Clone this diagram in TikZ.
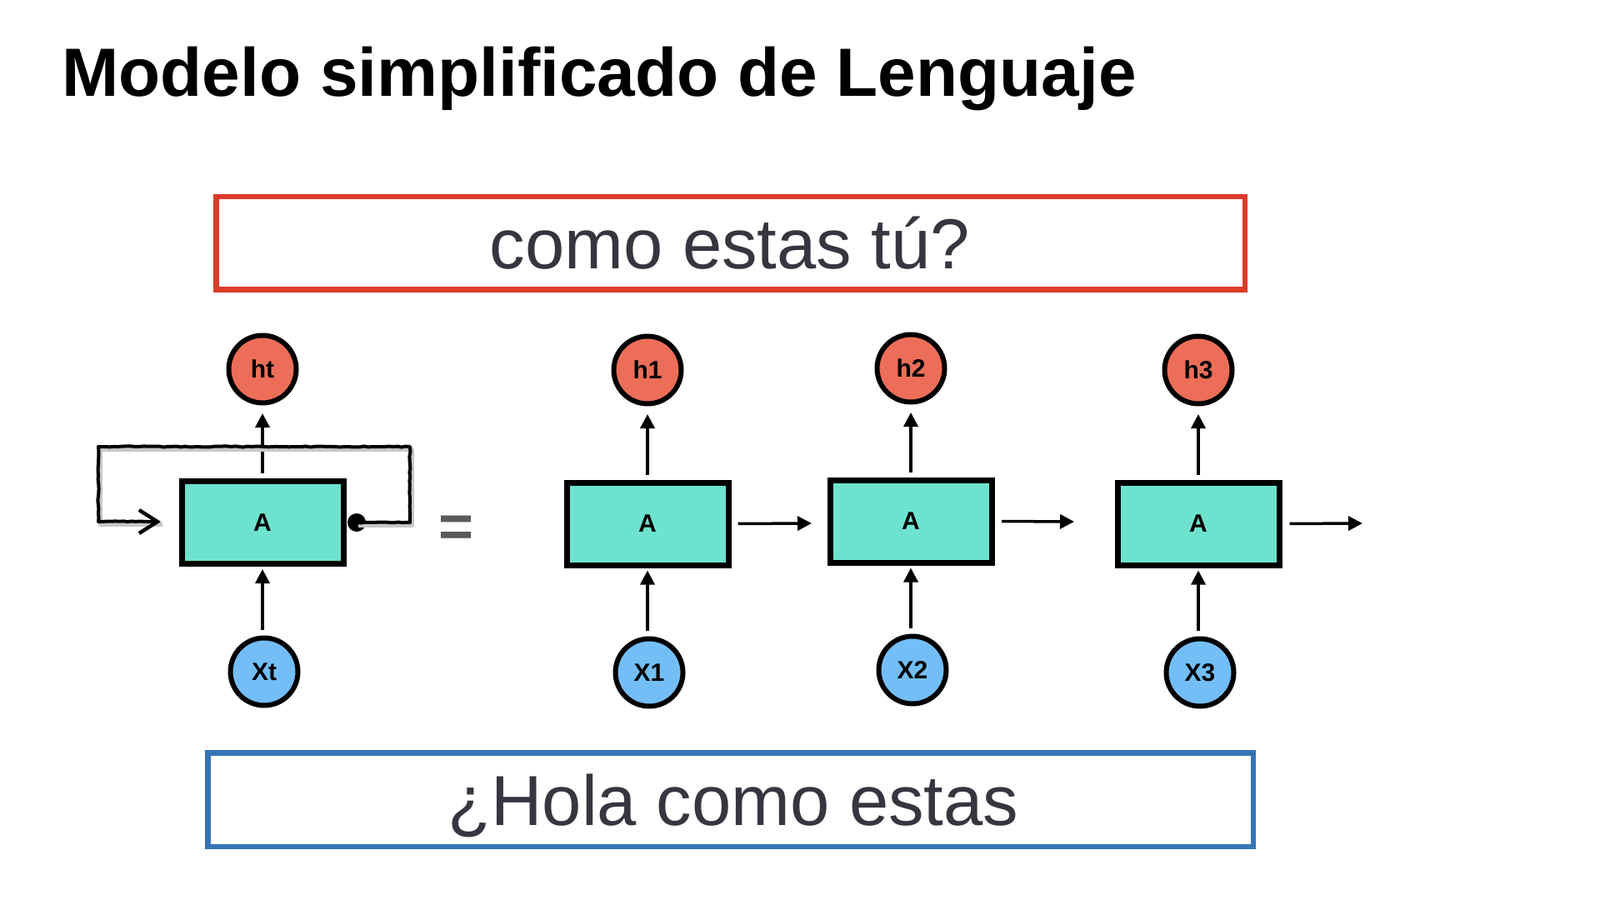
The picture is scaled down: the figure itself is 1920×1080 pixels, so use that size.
\documentclass[tikz,border=0pt]{standalone}
\usepackage{fontspec}
\setmainfont{Liberation Sans}
\usetikzlibrary{arrows.meta,decorations.pathmorphing,calc}
\definecolor{hred}{HTML}{EC6E58}
\definecolor{xblue}{HTML}{74BEF8}
\definecolor{cellteal}{HTML}{6DE3CF}
\definecolor{framered}{HTML}{DC3B28}
\definecolor{frameblue}{HTML}{3574B6}
\definecolor{txt}{HTML}{37353F}
\definecolor{eqgray}{HTML}{5A5A5A}
\begin{document}
\begin{tikzpicture}[x=0.5pt,y=-0.5pt,
 hcirc/.style={circle,draw=black,line width=3pt,fill=hred,minimum size=40.5pt,inner sep=0pt,font=\fontsize{15}{18}\selectfont\bfseries},
 xcirc/.style={circle,draw=black,line width=3pt,fill=xblue,minimum size=40.5pt,inner sep=0pt,font=\fontsize{15}{18}\selectfont\bfseries},
 cell/.style={rectangle,draw=black,line width=3.5pt,fill=cellteal,minimum width=97pt,minimum height=49.5pt,inner sep=0pt,font=\fontsize{15}{18}\selectfont\bfseries},
 arr/.style={line width=1.75pt,-{Triangle[length=8.5pt,width=8.5pt]}},
 frame/.style={rectangle,line width=3.25pt,inner sep=0pt},
 boxtext/.style={font=\fontsize{42.5}{50}\selectfont,text=txt,inner sep=0pt},
 loopline/.style={line width=2pt,decorate,decoration={random steps,segment length=2.5pt,amplitude=0.3pt},line join=round},
 loopshadow/.style={line width=2.5pt,draw=black!22,line join=round,transform canvas={shift={(1pt,-1.5pt)}}}
]
\useasboundingbox (0,0) rectangle (1920,1080);

% title
\node[anchor=base west,inner sep=0pt,font=\fontsize{41}{48}\selectfont\bfseries] (title) at (74,116) {Modelo simplificado de Lenguaje};

% frames
\node[frame,draw=framered,minimum width=617.25pt,minimum height=55.75pt] (topframe) at (876.5,292) {};
\node[boxtext,anchor=base] (toptext) at (876,323) {como estas tú?};
\node[frame,draw=frameblue,minimum width=627.25pt,minimum height=56.25pt] (botframe) at (876.5,959.5) {};
\node[boxtext,anchor=base] (bottext) at (880,990) {¿Hola como estas};

% folded cell
\node[cell] (bl) at (315,627) {A};
\node[hcirc] (ht) at (315,443) {ht};
\node[xcirc] (xt) at (317,806) {Xt};
\draw[arr,shorten <=3pt,shorten >=4.75pt] (bl.north) -- (ht.south);
\draw[arr,shorten <=3.25pt,shorten >=1.5pt] (xt.north -| bl.south) -- (bl.south);

\node[circle,fill=black,minimum size=11pt,inner sep=0pt] (dot) at (428,627) {};
\coordinate (lr1) at (492,627);
\coordinate (lr2) at (492,536);
\coordinate (ll1) at (118,536);
\coordinate (ll2) at (118,626);
\coordinate (la) at (193,626);
\coordinate (lb) at (178,626);
\draw[loopshadow] (dot.center) -- (lr1) -- (lr2) -- (ll1) -- (ll2) -- (la);
\draw[loopline] (dot.center) -- (lr1) -- (lr2) -- (ll1) -- (ll2) -- (lb);
\draw[line width=2pt,-{Straight Barb[length=11pt,width=14pt,line width=2.2pt]}] (lb) -- (la);

% equals sign
\node[text=eqgray,font=\fontsize{36}{40}\selectfont\bfseries,inner sep=0pt,anchor=base] (eq) at (548,656) {=};

% unrolled cells
\node[cell] (b1) at (777,628.5) {A};
\node[hcirc] (h1) at (777,444) {h1};
\node[xcirc] (x1) at (779,807) {X1};
\draw[arr,shorten <=3pt,shorten >=4.75pt] (b1.north) -- (h1.south);
\draw[arr,shorten <=3.25pt,shorten >=1.5pt] (x1.north -| b1.south) -- (b1.south);

\node[cell] (b2) at (1093,625.5) {A};
\node[hcirc] (h2) at (1093,442) {h2};
\node[xcirc] (x2) at (1095,804) {X2};
\draw[arr,shorten <=3pt,shorten >=4.75pt] (b2.north) -- (h2.south);
\draw[arr,shorten <=3.25pt,shorten >=1.5pt] (x2.north -| b2.south) -- (b2.south);

\node[cell] (b3) at (1438,628.5) {A};
\node[hcirc] (h3) at (1438,444) {h3};
\node[xcirc] (x3) at (1440,807) {X3};
\draw[arr,shorten <=3pt,shorten >=4.75pt] (b3.north) -- (h3.south);
\draw[arr,shorten <=3.25pt,shorten >=1.5pt] (x3.north -| b3.south) -- (b3.south);

% horizontal arrows
\coordinate (e1) at (974,628);
\coordinate (e2) at (1289,626);
\coordinate (e3) at (1635,628);
\draw[arr,shorten <=4pt] (b1.east) -- (e1);
\draw[arr,shorten <=4.25pt] (b2.east) -- (e2);
\draw[arr,shorten <=4.5pt] (b3.east) -- (e3);
\end{tikzpicture}
\end{document}
